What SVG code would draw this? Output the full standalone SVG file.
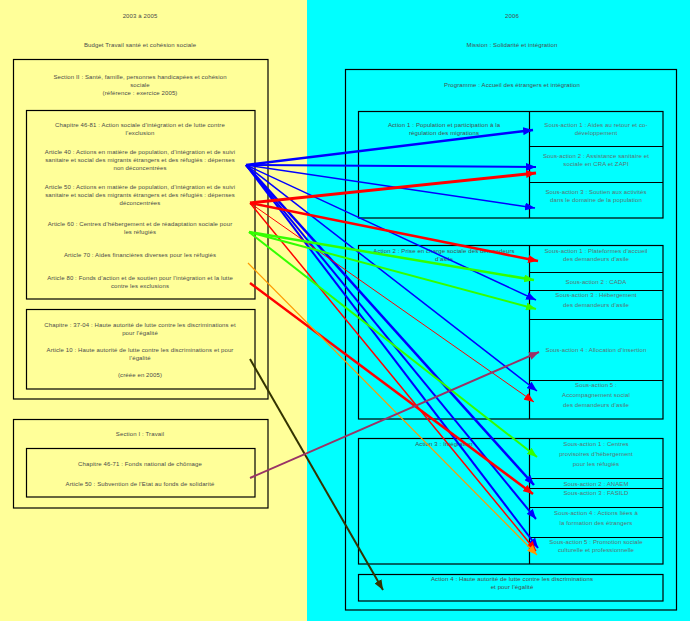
<svg xmlns="http://www.w3.org/2000/svg" width="690" height="621" viewBox="0 0 690 621">
<style>
text{font-family:"Liberation Sans",Arial,sans-serif;font-size:6px;fill:#4a4a4a;text-anchor:middle;letter-spacing:0.12px}
.s{fill:#5f6f6f}
.box{fill:none;stroke:#000;stroke-width:1.2}
.c{fill:none}
</style>
<defs>
<marker id="mb" viewBox="0 0 10 8" refX="10" refY="4" markerWidth="10" markerHeight="8" markerUnits="userSpaceOnUse" orient="auto"><path d="M0,0L10,4L0,8z" fill="#0000ff"/></marker>
<marker id="mr" viewBox="0 0 10 8" refX="10" refY="4" markerWidth="10" markerHeight="8" markerUnits="userSpaceOnUse" orient="auto"><path d="M0,0L10,4L0,8z" fill="#ff0000"/></marker>
<marker id="mg" viewBox="0 0 10 8" refX="10" refY="4" markerWidth="10" markerHeight="8" markerUnits="userSpaceOnUse" orient="auto"><path d="M0,0L10,4L0,8z" fill="#33ff00"/></marker>
<marker id="mo" viewBox="0 0 10 8" refX="10" refY="4" markerWidth="10" markerHeight="8" markerUnits="userSpaceOnUse" orient="auto"><path d="M0,0L10,4L0,8z" fill="#ff9900"/></marker>
<marker id="mp" viewBox="0 0 10 8" refX="10" refY="4" markerWidth="10" markerHeight="8" markerUnits="userSpaceOnUse" orient="auto"><path d="M0,0L10,4L0,8z" fill="#993366"/></marker>
<marker id="mk" viewBox="0 0 10 8" refX="10" refY="4" markerWidth="10" markerHeight="8" markerUnits="userSpaceOnUse" orient="auto"><path d="M0,0L10,4L0,8z" fill="#333300"/></marker>
</defs>
<rect x="0" y="0" width="307" height="621" fill="#ffff99"/>
<rect x="307" y="0" width="383" height="621" fill="#00ffff"/>

<g id="left-header">
<text x="140" y="18">2003 à 2005</text>
<text x="140" y="47">Budget Travail santé et cohésion sociale</text>
</g>

<g id="section2">
<rect class="box" x="13.5" y="59.5" width="254.5" height="339.5"/>
<text x="140" y="79">Section II : Santé, famille, personnes handicapées et cohésion</text>
<text x="140" y="87">sociale</text>
<text x="140" y="95">(référence : exercice 2005)</text>
</g>

<g id="chap4681">
<rect class="box" x="26.5" y="110.5" width="228.5" height="188.5"/>
<text x="140" y="127">Chapitre 46-81 : Action sociale d’intégration et de lutte contre</text>
<text x="140" y="135">l’exclusion</text>
<text x="140" y="154">Article 40 : Actions en matière de population, d’intégration et de suivi</text>
<text x="140" y="162">sanitaire et social des migrants étrangers et des réfugiés : dépenses</text>
<text x="140" y="170">non déconcentrées</text>
<text x="140" y="189">Article 50 : Actions en matière de population, d’intégration et de suivi</text>
<text x="140" y="197">sanitaire et social des migrants étrangers et des réfugiés : dépenses</text>
<text x="140" y="205">déconcentrées</text>
<text x="140" y="226">Article 60 : Centres d’hébergement et de réadaptation sociale pour</text>
<text x="140" y="234">les réfugiés</text>
<text x="140" y="257">Article 70 : Aides financières diverses pour les réfugiés</text>
<text x="140" y="280">Article 80 : Fonds d’action et de soutien pour l’intégration et la lutte</text>
<text x="140" y="288">contre les exclusions</text>
</g>

<g id="chap3704">
<rect class="box" x="26.5" y="309.5" width="228.5" height="79.5"/>
<text x="140" y="327">Chapitre : 37-04 : Haute autorité de lutte contre les discriminations et</text>
<text x="140" y="335">pour l’égalité</text>
<text x="140" y="352">Article 10 : Haute autorité de lutte contre les discriminations et pour</text>
<text x="140" y="360">l’égalité</text>
<text x="140" y="377">(créée en  2005)</text>
</g>

<g id="section1">
<rect class="box" x="13.5" y="419.5" width="254.5" height="88.5"/>
<text x="140" y="436">Section I : Travail</text>
</g>

<g id="chap4671">
<rect class="box" x="26.5" y="448.5" width="228.5" height="48.5"/>
<text x="140" y="466">Chapitre 46-71  : Fonds national de chômage</text>
<text x="140" y="486">Article 50 : Subvention de l’Etat au fonds de solidarité</text>
</g>

<g id="right-header">
<text x="512" y="18">2006</text>
<text x="512" y="47">Mission : Solidarité et intégration</text>
</g>

<g id="programme">
<rect class="box" x="345.5" y="69.5" width="331" height="540.5"/>
<text x="512" y="87">Programme : Accueil des étrangers et intégration</text>
</g>

<g id="action1">
<rect class="box" x="358.5" y="111.5" width="304.5" height="106.5"/>
<line class="box" x1="529.5" y1="111.5" x2="529.5" y2="218"/>
<line class="box" x1="529.5" y1="146.5" x2="663" y2="146.5"/>
<line class="box" x1="529.5" y1="182.5" x2="663" y2="182.5"/>
<text x="444" y="127">Action 1 : Population et participation à la</text>
<text x="444" y="135">régulation des migrations</text>
<text class="s" x="596" y="127">Sous-action 1 : Aides au retour et co-</text>
<text class="s" x="596" y="135">développement</text>
<text class="s" x="596" y="158">Sous-action 2 : Assistance sanitaire et</text>
<text class="s" x="596" y="166">sociale en CRA et ZAPI</text>
<text class="s" x="596" y="194">Sous-action 3 : Soutien aux activités</text>
<text class="s" x="596" y="202">dans le domaine de la population</text>
</g>

<g id="action2">
<rect class="box" x="358.5" y="245.5" width="304.5" height="173.5"/>
<line class="box" x1="529.5" y1="245.5" x2="529.5" y2="419"/>
<line class="box" x1="529.5" y1="272.5" x2="663" y2="272.5"/>
<line class="box" x1="529.5" y1="290.5" x2="663" y2="290.5"/>
<line class="box" x1="529.5" y1="319.5" x2="663" y2="319.5"/>
<line class="box" x1="529.5" y1="380.5" x2="663" y2="380.5"/>
<text x="444" y="253">Action 2 : Prise en charge sociale des demandeurs</text>
<text x="444" y="261">d’asile</text>
<text class="s" x="596" y="253">Sous-action 1 : Plateformes d’accueil</text>
<text class="s" x="596" y="261">des demandeurs d’asile</text>
<text class="s" x="596" y="284">Sous-action 2 : CADA</text>
<text class="s" x="596" y="297">Sous-action 3 : Hébergement</text>
<text class="s" x="596" y="307">des demandeurs d’asile</text>
<text class="s" x="596" y="352">Sous-action 4 : Allocation d’insertion</text>
<text class="s" x="596" y="387">Sous-action 5 :</text>
<text class="s" x="596" y="397">Accompagnement social</text>
<text class="s" x="596" y="407">des demandeurs d’asile</text>
</g>

<g id="action3">
<rect class="box" x="358.5" y="438.5" width="304.5" height="125.5"/>
<line class="box" x1="529.5" y1="438.5" x2="529.5" y2="564"/>
<line class="box" x1="529.5" y1="478.5" x2="663" y2="478.5"/>
<line class="box" x1="529.5" y1="488.5" x2="663" y2="488.5"/>
<line class="box" x1="529.5" y1="507.5" x2="663" y2="507.5"/>
<line class="box" x1="529.5" y1="537.5" x2="663" y2="537.5"/>
<text x="444" y="446">Action 3 : Intégration</text>
<text class="s" x="596" y="446">Sous-action 1 : Centres</text>
<text class="s" x="596" y="456">provisoires d’hébergement</text>
<text class="s" x="596" y="466">pour les réfugiés</text>
<text class="s" x="596" y="486">Sous-action 2 : ANAEM</text>
<text class="s" x="596" y="495">Sous-action 3 : FASILD</text>
<text class="s" x="596" y="515">Sous-action 4 : Actions liées à</text>
<text class="s" x="596" y="525">la formation des étrangers</text>
<text class="s" x="596" y="544">Sous-action 5 : Promotion sociale</text>
<text class="s" x="596" y="552">culturelle et professionnelle</text>
</g>

<g id="action4">
<rect class="box" x="358.5" y="574.5" width="304.5" height="26.5"/>
<text x="512" y="581">Action 4 : Haute autorité de lutte contre les discriminations</text>
<text x="512" y="589">et pour l’égalité</text>
</g>

<g id="connectors" class="c">
<line x1="246" y1="165" x2="533" y2="130" stroke="#0000ff" stroke-width="2.5" marker-end="url(#mb)"/>
<line x1="246" y1="165" x2="536" y2="167" stroke="#0000ff" stroke-width="2" marker-end="url(#mb)"/>
<line x1="246" y1="165" x2="535" y2="208" stroke="#0000ff" stroke-width="1.5" marker-end="url(#mb)"/>
<line x1="246" y1="165" x2="536" y2="300" stroke="#0000ff" stroke-width="1.5" marker-end="url(#mb)"/>
<line x1="246" y1="165" x2="537" y2="391" stroke="#0000ff" stroke-width="1.5" marker-end="url(#mb)"/>
<line x1="246" y1="165" x2="534" y2="485" stroke="#0000ff" stroke-width="2.5" marker-end="url(#mb)"/>
<line x1="246" y1="165" x2="536" y2="519" stroke="#0000ff" stroke-width="2" marker-end="url(#mb)"/>
<line x1="246" y1="165" x2="538" y2="548" stroke="#0000ff" stroke-width="2" marker-end="url(#mb)"/>

<line x1="250" y1="203" x2="536" y2="173" stroke="#ff0000" stroke-width="3" marker-end="url(#mr)"/>
<line x1="250" y1="203" x2="538" y2="261" stroke="#ff0000" stroke-width="2.5" marker-end="url(#mr)"/>
<line x1="250" y1="203" x2="534" y2="402" stroke="#ff0000" stroke-width="1" marker-end="url(#mr)"/>
<line x1="250" y1="203" x2="536" y2="551" stroke="#ff0000" stroke-width="1.5" marker-end="url(#mr)"/>
<line x1="250" y1="283" x2="533" y2="494" stroke="#ff0000" stroke-width="2.5" marker-end="url(#mr)"/>

<line x1="249" y1="232" x2="534" y2="280" stroke="#33ff00" stroke-width="2.5" marker-end="url(#mg)"/>
<line x1="249" y1="232" x2="536" y2="309" stroke="#33ff00" stroke-width="2" marker-end="url(#mg)"/>
<line x1="249" y1="232" x2="537" y2="457" stroke="#33ff00" stroke-width="2" marker-end="url(#mg)"/>

<line x1="248" y1="263" x2="537" y2="555" stroke="#ff9900" stroke-width="1.2" marker-end="url(#mo)"/>

<line x1="250" y1="359" x2="383" y2="590" stroke="#333300" stroke-width="2" marker-end="url(#mk)"/>
<line x1="250" y1="478" x2="539" y2="352" stroke="#993366" stroke-width="2" marker-end="url(#mp)"/>
</g>
</svg>
